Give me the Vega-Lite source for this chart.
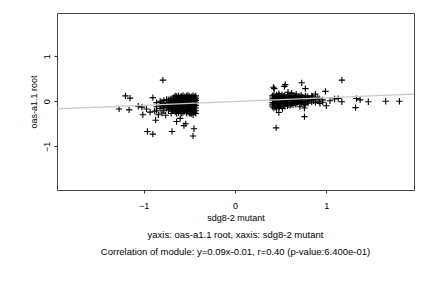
{
  "$schema": "https://vega.github.io/schema/vega-lite/v6.json",
  "autosize": {"type": "none"},
  "padding": {"left": 57, "top": 13, "right": 18, "bottom": 98},
  "width": 357,
  "height": 177,
  "background": "white",
  "config": {
    "view": {"stroke": "#444444", "strokeWidth": 1},
    "font": "Liberation Sans",
    "axis": {"grid": false, "domain": false, "tickColor": "#333333", "tickSize": 3, "labelFont": "Liberation Sans", "titleFont": "Liberation Sans", "labelFontSize": 9, "titleFontSize": 9, "titleFontWeight": "normal", "labelColor": "black", "titleColor": "black"}
  },
  "title": {
    "text": ["yaxis: oas-a1.1 root, xaxis: sdg8-2 mutant", "Correlation of module: y=0.09x-0.01, r=0.40 (p-value:6.400e-01)"],
    "orient": "bottom",
    "anchor": "middle",
    "font": "Liberation Sans",
    "fontSize": 9.5,
    "fontWeight": "normal",
    "lineHeight": 17,
    "offset": 8,
    "color": "black"
  },
  "datasets": {
    "pts": [
      {"x":-1.27,"y":-0.17},{"x":-1.2,"y":0.12},{"x":-1.15,"y":0.07},{"x":-1.16,"y":-0.19},{"x":-1.06,"y":-0.11},{"x":-1.02,"y":-0.13},{"x":-1.01,"y":-0.3},{"x":-0.96,"y":-0.67},{"x":-0.9,"y":-0.73},{"x":-0.79,"y":0.47},{"x":-0.9,"y":0.08},{"x":-0.93,"y":-0.24},{"x":-0.87,"y":-0.42},{"x":-0.69,"y":-0.67},{"x":-0.46,"y":-0.77},{"x":-0.45,"y":-0.61},{"x":-0.56,"y":-0.54},{"x":-0.54,"y":-0.5},{"x":-0.64,"y":-0.45},{"x":-0.6,"y":-0.38},{"x":-0.84,"y":-0.3},{"x":-0.8,"y":-0.26},{"x":-0.97,"y":-0.17},{"x":-0.88,"y":-0.22},{"x":-0.76,"y":-0.31},{"x":-0.7,"y":-0.27},
      {"x":-0.43,"y":0.12},{"x":-0.43,"y":0.07},{"x":-0.43,"y":0.02},{"x":-0.43,"y":-0.03},{"x":-0.43,"y":-0.09},{"x":-0.43,"y":-0.15},{"x":-0.43,"y":-0.21},{"x":-0.43,"y":-0.27},
      {"x":-0.46,"y":0.13},{"x":-0.46,"y":0.08},{"x":-0.46,"y":0.03},{"x":-0.46,"y":-0.02},{"x":-0.46,"y":-0.07},{"x":-0.46,"y":-0.12},{"x":-0.46,"y":-0.18},{"x":-0.46,"y":-0.24},{"x":-0.46,"y":-0.3},
      {"x":-0.5,"y":0.11},{"x":-0.5,"y":0.06},{"x":-0.5,"y":0.01},{"x":-0.5,"y":-0.05},{"x":-0.5,"y":-0.1},{"x":-0.5,"y":-0.16},{"x":-0.5,"y":-0.22},{"x":-0.5,"y":-0.27},
      {"x":-0.53,"y":0.12},{"x":-0.53,"y":0.07},{"x":-0.53,"y":0.02},{"x":-0.53,"y":-0.03},{"x":-0.53,"y":-0.08},{"x":-0.53,"y":-0.14},{"x":-0.53,"y":-0.2},{"x":-0.53,"y":-0.26},
      {"x":-0.57,"y":0.13},{"x":-0.57,"y":0.08},{"x":-0.57,"y":0.03},{"x":-0.57,"y":-0.02},{"x":-0.57,"y":-0.07},{"x":-0.57,"y":-0.13},{"x":-0.57,"y":-0.19},{"x":-0.57,"y":-0.25},
      {"x":-0.6,"y":0.1},{"x":-0.6,"y":0.05},{"x":-0.6,"y":0.0},{"x":-0.6,"y":-0.05},{"x":-0.6,"y":-0.11},{"x":-0.6,"y":-0.17},{"x":-0.6,"y":-0.23},
      {"x":-0.64,"y":0.11},{"x":-0.64,"y":0.06},{"x":-0.64,"y":0.01},{"x":-0.64,"y":-0.04},{"x":-0.64,"y":-0.09},{"x":-0.64,"y":-0.15},{"x":-0.64,"y":-0.21},{"x":-0.64,"y":-0.27},
      {"x":-0.67,"y":0.09},{"x":-0.67,"y":0.03},{"x":-0.67,"y":-0.03},{"x":-0.67,"y":-0.08},{"x":-0.67,"y":-0.14},{"x":-0.67,"y":-0.2},
      {"x":-0.71,"y":0.05},{"x":-0.71,"y":0.0},{"x":-0.71,"y":-0.06},{"x":-0.71,"y":-0.12},{"x":-0.71,"y":-0.17},
      {"x":-0.75,"y":0.04},{"x":-0.75,"y":-0.02},{"x":-0.75,"y":-0.09},{"x":-0.75,"y":-0.15},
      {"x":-0.78,"y":0.02},{"x":-0.78,"y":-0.05},{"x":-0.78,"y":-0.13},{"x":-0.78,"y":-0.21},
      {"x":-0.82,"y":0.0},{"x":-0.82,"y":-0.08},{"x":-0.82,"y":-0.16},
      {"x":-0.86,"y":-0.03},{"x":-0.86,"y":-0.12},{"x":-0.86,"y":-0.2},
      {"x":-0.44,"y":0.04},{"x":-0.48,"y":-0.05},{"x":-0.52,"y":0.09},{"x":-0.55,"y":-0.11},{"x":-0.58,"y":0.0},{"x":-0.62,"y":0.12},{"x":-0.45,"y":-0.19},{"x":-0.49,"y":-0.25},{"x":-0.54,"y":0.04},{"x":-0.59,"y":-0.2},{"x":-0.63,"y":-0.02},{"x":-0.66,"y":-0.11},{"x":-0.69,"y":0.06},{"x":-0.73,"y":-0.08},
      {"x":-0.445,"y":0.095},{"x":-0.445,"y":0.045},{"x":-0.445,"y":-0.005},{"x":-0.445,"y":-0.06},{"x":-0.445,"y":-0.12},{"x":-0.445,"y":-0.24},
      {"x":-0.48,"y":0.1},{"x":-0.48,"y":0.05},{"x":-0.48,"y":0.0},{"x":-0.48,"y":-0.1},{"x":-0.48,"y":-0.15},{"x":-0.48,"y":-0.21},{"x":-0.48,"y":-0.28},
      {"x":-0.515,"y":0.13},{"x":-0.515,"y":0.04},{"x":-0.515,"y":-0.02},{"x":-0.515,"y":-0.07},{"x":-0.515,"y":-0.13},{"x":-0.515,"y":-0.19},{"x":-0.515,"y":-0.24},
      {"x":-0.55,"y":0.1},{"x":-0.55,"y":0.05},{"x":-0.55,"y":0.0},{"x":-0.55,"y":-0.05},{"x":-0.55,"y":-0.17},{"x":-0.55,"y":-0.23},
      {"x":-0.585,"y":0.11},{"x":-0.585,"y":0.06},{"x":-0.585,"y":-0.04},{"x":-0.585,"y":-0.1},{"x":-0.585,"y":-0.16},{"x":-0.585,"y":-0.27},
      {"x":-0.62,"y":0.08},{"x":-0.62,"y":0.03},{"x":-0.62,"y":-0.07},{"x":-0.62,"y":-0.13},{"x":-0.62,"y":-0.18},{"x":-0.62,"y":-0.25},
      {"x":-0.655,"y":0.12},{"x":-0.655,"y":0.05},{"x":-0.655,"y":-0.01},{"x":-0.655,"y":-0.06},{"x":-0.655,"y":-0.17},{"x":-0.655,"y":-0.24},
      {"x":-0.69,"y":0.01},{"x":-0.69,"y":-0.05},{"x":-0.69,"y":-0.1},{"x":-0.69,"y":-0.16},{"x":-0.69,"y":-0.22},
      {"x":-0.73,"y":0.03},{"x":-0.73,"y":-0.03},{"x":-0.73,"y":-0.13},{"x":-0.73,"y":-0.19},
      {"x":-0.77,"y":-0.09},{"x":-0.8,"y":-0.02},{"x":-0.8,"y":-0.11},
      {"x":0.45,"y":-0.59},{"x":0.48,"y":-0.25},{"x":0.42,"y":0.31},{"x":0.43,"y":0.28},{"x":0.54,"y":0.33},{"x":0.55,"y":0.37},{"x":0.73,"y":0.41},{"x":0.77,"y":0.28},{"x":0.76,"y":-0.34},{"x":0.76,"y":-0.15},{"x":0.99,"y":0.22},{"x":1.17,"y":0.47},{"x":1.17,"y":-0.01},{"x":1.09,"y":0.05},{"x":1.32,"y":-0.14},{"x":1.33,"y":0.06},{"x":1.37,"y":0.03},{"x":1.46,"y":-0.01},{"x":1.65,"y":0.0},{"x":1.8,"y":0.0},{"x":1.0,"y":-0.1},{"x":0.93,"y":-0.05},{"x":0.88,"y":0.16},{"x":0.84,"y":0.12},{"x":0.62,"y":0.18},{"x":0.58,"y":0.2},{"x":0.67,"y":0.16},{"x":0.48,"y":0.17},{"x":0.71,"y":-0.12},{"x":0.52,"y":-0.16},{"x":1.04,"y":0.01},{"x":1.13,"y":0.06},
      {"x":0.41,"y":0.12},{"x":0.41,"y":0.07},{"x":0.41,"y":0.02},{"x":0.41,"y":-0.03},{"x":0.41,"y":-0.08},{"x":0.41,"y":-0.12},
      {"x":0.44,"y":0.11},{"x":0.44,"y":0.06},{"x":0.44,"y":0.01},{"x":0.44,"y":-0.04},{"x":0.44,"y":-0.09},{"x":0.44,"y":-0.13},
      {"x":0.47,"y":0.12},{"x":0.47,"y":0.08},{"x":0.47,"y":0.03},{"x":0.47,"y":-0.02},{"x":0.47,"y":-0.07},{"x":0.47,"y":-0.11},
      {"x":0.5,"y":0.1},{"x":0.5,"y":0.05},{"x":0.5,"y":0.0},{"x":0.5,"y":-0.05},{"x":0.5,"y":-0.1},
      {"x":0.53,"y":0.11},{"x":0.53,"y":0.06},{"x":0.53,"y":0.01},{"x":0.53,"y":-0.04},{"x":0.53,"y":-0.09},
      {"x":0.56,"y":0.09},{"x":0.56,"y":0.04},{"x":0.56,"y":-0.01},{"x":0.56,"y":-0.06},
      {"x":0.59,"y":0.12},{"x":0.59,"y":0.07},{"x":0.59,"y":0.02},{"x":0.59,"y":-0.03},{"x":0.59,"y":-0.08},
      {"x":0.62,"y":0.08},{"x":0.62,"y":0.03},{"x":0.62,"y":-0.02},{"x":0.62,"y":-0.06},
      {"x":0.65,"y":0.1},{"x":0.65,"y":0.05},{"x":0.65,"y":0.0},{"x":0.65,"y":-0.04},
      {"x":0.68,"y":0.07},{"x":0.68,"y":0.02},{"x":0.68,"y":-0.03},
      {"x":0.71,"y":0.11},{"x":0.71,"y":0.06},{"x":0.71,"y":0.01},{"x":0.71,"y":-0.05},
      {"x":0.74,"y":0.09},{"x":0.74,"y":0.04},{"x":0.74,"y":-0.01},
      {"x":0.77,"y":0.12},{"x":0.77,"y":0.06},{"x":0.77,"y":0.0},{"x":0.77,"y":-0.06},
      {"x":0.8,"y":0.08},{"x":0.8,"y":0.02},{"x":0.8,"y":-0.04},
      {"x":0.84,"y":0.05},{"x":0.84,"y":-0.02},{"x":0.85,"y":0.1},
      {"x":0.88,"y":0.04},{"x":0.88,"y":-0.03},
      {"x":0.92,"y":0.06},{"x":0.92,"y":0.0},
      {"x":0.96,"y":-0.02},{"x":0.96,"y":0.03},
      {"x":0.425,"y":0.145},{"x":0.425,"y":0.045},{"x":0.425,"y":-0.055},{"x":0.425,"y":-0.15},
      {"x":0.455,"y":0.14},{"x":0.455,"y":0.035},{"x":0.455,"y":-0.06},{"x":0.455,"y":-0.16},
      {"x":0.485,"y":0.13},{"x":0.485,"y":0.055},{"x":0.485,"y":-0.045},{"x":0.485,"y":-0.13},
      {"x":0.515,"y":0.14},{"x":0.515,"y":0.025},{"x":0.515,"y":-0.07},{"x":0.515,"y":-0.12},
      {"x":0.545,"y":0.13},{"x":0.545,"y":0.035},{"x":0.545,"y":-0.11},
      {"x":0.575,"y":0.14},{"x":0.575,"y":0.06},{"x":0.575,"y":-0.05},{"x":0.575,"y":-0.1},
      {"x":0.605,"y":0.12},{"x":0.605,"y":0.05},{"x":0.605,"y":-0.09},
      {"x":0.635,"y":0.13},{"x":0.635,"y":0.015},{"x":0.635,"y":-0.08},
      {"x":0.665,"y":0.12},{"x":0.665,"y":0.03},{"x":0.665,"y":-0.07},
      {"x":0.695,"y":0.1},{"x":0.695,"y":0.0},{"x":0.725,"y":0.13},{"x":0.725,"y":-0.03},
      {"x":0.755,"y":0.07},{"x":0.755,"y":-0.08},{"x":0.79,"y":0.11},{"x":0.79,"y":-0.01},
      {"x":0.82,"y":0.06},{"x":0.86,"y":0.01},{"x":0.9,"y":0.09}
    ],
    "fit": [{"x": -1.96, "y": -0.17}, {"x": 1.96, "y": 0.16}]
  },
  "layer": [
    {
      "data": {"name": "pts"},
      "mark": {"type": "point", "shape": "M-1,0L1,0M0,-1L0,1", "filled": false, "stroke": "black", "strokeWidth": 1.1, "size": 40, "opacity": 1, "clip": true},
      "encoding": {
        "x": {"field": "x", "type": "quantitative", "scale": {"domain": [-1.95, 1.96], "nice": false, "zero": false},
              "axis": {"values": [-1, 0, 1], "format": "d", "title": "sdg8-2 mutant", "labelPadding": 8, "titlePadding": 3}},
        "y": {"field": "y", "type": "quantitative", "scale": {"domain": [-1.97, 1.96], "nice": false, "zero": false},
              "axis": {"values": [-1, 0, 1], "format": "d", "title": "oas-a1.1 root", "labelAngle": -90, "labelAlign": "center", "labelBaseline": "bottom", "labelPadding": 3, "titlePadding": 4}}
      }
    },
    {
      "data": {"name": "fit"},
      "mark": {"type": "line", "color": "#c8c8c8", "strokeWidth": 1.2, "clip": true},
      "encoding": {
        "x": {"field": "x", "type": "quantitative"},
        "y": {"field": "y", "type": "quantitative"}
      }
    }
  ]
}
